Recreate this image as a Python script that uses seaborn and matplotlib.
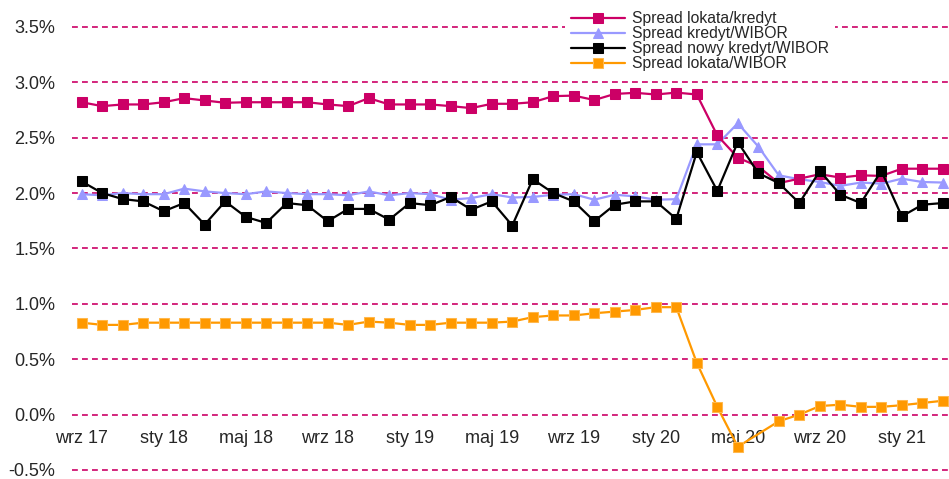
import numpy as np
import pandas as pd
import matplotlib
matplotlib.use("Agg")
import matplotlib.pyplot as plt
import seaborn as sns

# monthly data, wrz 17 .. mar 21
tick_labels = ["wrz 17", "sty 18", "maj 18", "wrz 18", "sty 19", "maj 19",
               "wrz 19", "sty 20", "maj 20", "wrz 20", "sty 21"]

lokata_kredyt = [2.82, 2.785, 2.80, 2.80, 2.82, 2.857, 2.836, 2.815, 2.82, 2.82,
                 2.82, 2.82, 2.80, 2.785, 2.857, 2.80, 2.80, 2.80, 2.785, 2.767,
                 2.806, 2.806, 2.82, 2.875, 2.88, 2.84, 2.895, 2.905, 2.89, 2.907,
                 2.89, 2.52, 2.32, 2.24, 2.09, 2.13, 2.17, 2.14, 2.16, 2.155,
                 2.22, 2.22, 2.22]

kredyt_wibor = [1.99, 1.98, 2.0, 1.99, 1.99, 2.04, 2.015, 2.0, 1.99, 2.015,
                2.0, 1.99, 1.99, 1.98, 2.015, 1.98, 2.0, 1.99, 1.94, 1.955,
                1.99, 1.96, 1.965, 1.985, 1.99, 1.94, 1.985, 1.97, 1.94, 1.945,
                2.44, 2.44, 2.63, 2.42, 2.16, 2.125, 2.10, 2.065, 2.095, 2.085,
                2.13, 2.10, 2.095]

nowy_kredyt_wibor = [2.105, 2.0, 1.946, 1.925, 1.836, 1.91, 1.716, 1.925, 1.785, 1.73,
                     1.91, 1.89, 1.746, 1.857, 1.857, 1.76, 1.91, 1.89, 1.965, 1.85,
                     1.925, 1.707, 2.125, 2.0, 1.925, 1.746, 1.895, 1.925, 1.925, 1.767,
                     2.37, 2.02, 2.46, 2.18, 2.09, 1.91, 2.2, 1.985, 1.91, 2.2,
                     1.79, 1.895, 1.91]

# one month (cze 20) has no value in this series
lokata_wibor = [0.83, 0.81, 0.81, 0.83, 0.83, 0.83, 0.83, 0.83, 0.83, 0.83,
                0.83, 0.83, 0.83, 0.81, 0.84, 0.83, 0.81, 0.81, 0.83, 0.83,
                0.83, 0.84, 0.88, 0.895, 0.895, 0.915, 0.93, 0.945, 0.97, 0.97,
                0.467, 0.07, -0.29, np.nan, -0.06, 0.0, 0.077, 0.09, 0.07, 0.07,
                0.085, 0.105, 0.125]

x = np.arange(len(lokata_kredyt))
df = pd.DataFrame({
    "x": x,
    "lokata_kredyt": lokata_kredyt,
    "kredyt_wibor": kredyt_wibor,
    "nowy_kredyt_wibor": nowy_kredyt_wibor,
    "lokata_wibor": lokata_wibor,
})

sns.set_style("white")
plt.rcParams["font.family"] = ["Liberation Sans", "DejaVu Sans"]

fig = plt.figure(figsize=(9.49, 4.79), dpi=100)
ax = fig.add_axes([0.0759, 0.0188, 0.9241, 0.925])

red = "#CC0066"
purple = "#9999FF"
orange = "#FF9900"

sns.lineplot(data=df, x="x", y="kredyt_wibor", ax=ax, color=purple, lw=1.6,
             marker="^", markersize=7.5, markeredgecolor=purple,
             label="Spread kredyt/WIBOR", zorder=3)
sns.lineplot(data=df, x="x", y="lokata_kredyt", ax=ax, color=red, lw=1.6,
             marker="s", markersize=6.5, markeredgecolor=red,
             label="Spread lokata/kredyt", zorder=4)
sns.lineplot(data=df, x="x", y="nowy_kredyt_wibor", ax=ax, color="black", lw=1.6,
             marker="s", markersize=6.5, markeredgecolor="black",
             label="Spread nowy kredyt/WIBOR", zorder=5)
sns.lineplot(data=df.dropna(subset=["lokata_wibor"]), x="x", y="lokata_wibor", ax=ax,
             color=orange, lw=1.6, marker="s", markersize=6.5,
             markeredgecolor="#FFB84D", label="Spread lokata/WIBOR", zorder=4)

# dashed gridlines
yt = np.arange(-0.5, 3.51, 0.5)
for v in yt:
    ax.axhline(v, color=red, lw=1.2, ls=(0, (3.5, 2.5)), zorder=1, clip_on=False)

ax.set_ylim(-0.5, 3.5)
ax.set_xlim(-0.47, 42.3)
ax.set_yticks(yt)
ax.set_yticklabels([f"{v:.1f}%" for v in yt])
ax.set_xticks(x[::4])
ax.set_xticklabels(tick_labels)
ax.tick_params(axis="y", length=0, pad=12, labelsize=13)
ax.tick_params(axis="x", length=0, pad=11, labelsize=13)
ax.spines["bottom"].set_position(("data", 0))
for s in ax.spines.values():
    s.set_visible(False)
ax.set_xlabel("")
ax.set_ylabel("")
ax.grid(False)

h, l = ax.get_legend_handles_labels()
order = [1, 0, 2, 3]
leg = ax.legend([h[i] for i in order], [l[i] for i in order],
                loc="upper left", bbox_to_anchor=(565 / 949, 1 - 5 / 479),
                bbox_transform=fig.transFigure, fontsize=11.3,
                handlelength=3.4, handletextpad=0.45, labelspacing=0.0,
                borderpad=0.4, borderaxespad=0, frameon=True, fancybox=False)
leg.get_frame().set_facecolor("white")
leg.get_frame().set_edgecolor("none")
leg.get_frame().set_alpha(1)
leg.set_zorder(10)

plt.savefig("out.png", dpi=100)
